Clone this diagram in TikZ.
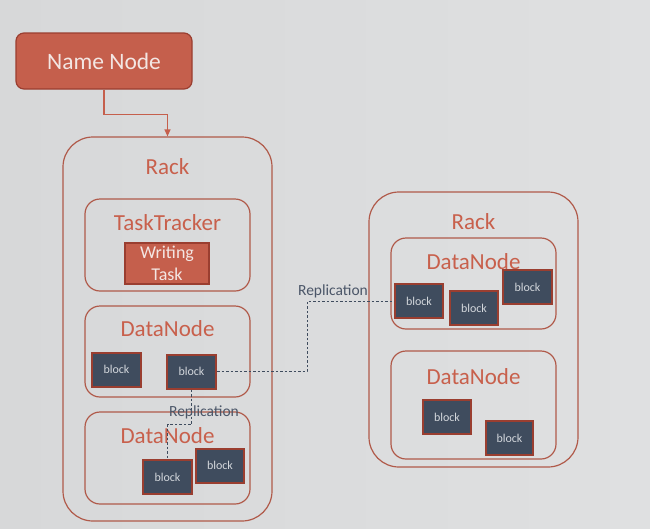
\documentclass[tikz,border=0pt]{standalone}
\usepackage{fontspec}
\setmainfont{Carlito}
\usetikzlibrary{arrows.meta}
\definecolor{bgL}{HTML}{D7D8D9}
\definecolor{bgR}{HTML}{DFE0E1}
\definecolor{redtxt}{HTML}{C8604C}
\definecolor{frame}{HTML}{B05A4A}
\definecolor{redfill}{HTML}{C55F4C}
\definecolor{redline}{HTML}{9A3E30}
\definecolor{slate}{HTML}{3F4C5E}
\definecolor{slatetxt}{HTML}{4B5668}
\definecolor{lighttxt}{HTML}{F3E6E3}
\definecolor{blocktxt}{HTML}{D3D7DC}
\tikzset{
  container/.style={draw=frame, line width=1.2pt, rounded corners=#1, inner sep=0pt},
  container/.default=15pt,
  bigtxt/.style={text=redtxt, font=\fontsize{23}{27}\selectfont, inner sep=0pt},
  blockbox/.style={draw=redline, fill=slate, line width=2pt, minimum width=48pt, minimum height=34pt, inner sep=0pt, text=blocktxt, font=\fontsize{12}{14}\selectfont},
  repl/.style={draw=slate, line width=1pt, dash pattern=on 2.5pt off 2pt},
  repltxt/.style={text=slatetxt, font=\fontsize{15.5}{18}\selectfont, inner sep=0pt},
}
\begin{document}
\begin{tikzpicture}[x=1pt,y=-1pt]
\shade[left color=bgL, right color=bgR] (0,0) rectangle (650,528);
\useasboundingbox (0,0) rectangle (650,528);
% Name node
\node[draw=redline, fill=redfill, line width=1.2pt, rounded corners=8pt, minimum width=176pt, minimum height=56pt, inner sep=0pt, text=lighttxt, font=\fontsize{23.5}{27}\selectfont] (nn) at (104,61) {Name Node};
% Left rack
\node[container=30pt, minimum width=209pt, minimum height=384pt] (rackL) at (167.5,329) {};
\node[bigtxt] (rackLt) at (167.5,167) {Rack};
\node[container, minimum width=165pt, minimum height=92pt] (tt) at (167.5,245) {};
\node[bigtxt] (ttt) at (167.5,223) {TaskTracker};
\node[draw=redline, fill=redfill, line width=1.5pt, minimum width=84pt, minimum height=41pt, inner sep=0pt, text=lighttxt, align=center, font=\fontsize{18}{22.5}\selectfont] (wt) at (167,263.5) {Writing\\Task};
\node[container, minimum width=165pt, minimum height=91pt] (dn1) at (167.5,351.5) {};
\node[bigtxt] (dn1t) at (167.5,329) {DataNode};
\node[blockbox, minimum width=49pt] (b1) at (116.5,369.5) {block};
\node[blockbox, minimum width=49pt] (b2) at (191.5,371.5) {block};
\node[container, minimum width=165pt, minimum height=92pt] (dn2) at (167.5,458) {};
\node[bigtxt] (dn2t) at (167.5,436) {DataNode};
\node[blockbox, minimum width=49pt] (b3) at (167.5,477) {block};
\node[blockbox] (b4) at (220,465.5) {block};
% Right rack
\node[container=30pt, minimum width=209pt, minimum height=275pt] (rackR) at (473.5,329.5) {};
\node[bigtxt] (rackRt) at (473.5,222) {Rack};
\node[container, minimum width=165pt, minimum height=91pt] (dn3) at (473.5,283.5) {};
\node[bigtxt] (dn3t) at (473.5,262) {DataNode};
\node[blockbox] (b5) at (419,301) {block};
\node[blockbox] (b6) at (474,308) {block};
\node[blockbox, minimum width=49pt] (b7) at (527.5,287) {block};
\node[container, minimum width=165pt, minimum height=108pt] (dn4) at (473.5,405) {};
\node[bigtxt] (dn4t) at (473.5,377) {DataNode};
\node[blockbox] (b8) at (447,417) {block};
\node[blockbox, minimum width=47pt] (b9) at (509.5,438) {block};
% Connectors
\draw[draw=redfill, line width=1.2pt, -{Triangle[length=7pt,width=6pt]}] (nn.south) -- ++(0,25) -| (rackL.north);
\draw[repl] (b2.south) -- ++(0,35) -| (b3.north);
\draw[repl] (b2.east) -- ++(90,0) |- (b5.west);
\node[repltxt] (rl1) at (204,412) {Replication};
\node[repltxt] (rl2) at (333,291) {Replication};
\end{tikzpicture}
\end{document}
